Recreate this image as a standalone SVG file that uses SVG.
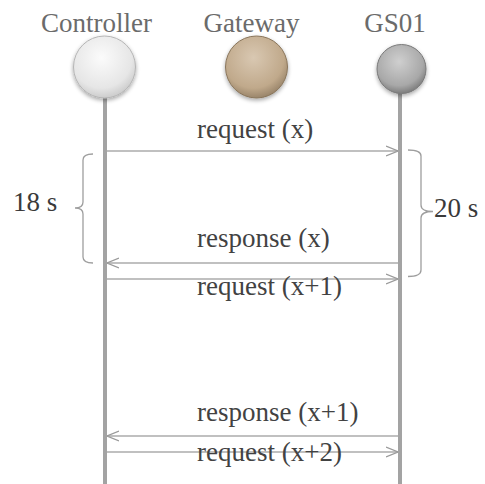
<svg xmlns="http://www.w3.org/2000/svg" width="485" height="484" viewBox="0 0 485 484">
  <style>
    text { font-family: 'Liberation Serif', 'Times New Roman', 'DejaVu Serif', serif; font-size: 27px; }
    .head { fill: #6b6b6b; text-anchor: middle; }
    .msg { fill: #424242; }
    .dur { fill: #3a3a3a; }
    .life { stroke: #a3a3a3; stroke-width: 4; fill: none; }
    .arrow { stroke: #ababab; stroke-width: 1.3; fill: none; }
    .brace { stroke: #9e9e9e; stroke-width: 1.3; fill: none; }
  </style>
  <defs>
    <marker id="head" viewBox="0 0 12 12" refX="12" refY="6" markerWidth="12" markerHeight="12" markerUnits="userSpaceOnUse" orient="auto">
      <path d="M0,1 L12,6 L0,11" fill="none" stroke="#9a9a9a" stroke-width="1.3"/>
    </marker>
    <radialGradient id="gWhite" cx="0.45" cy="0.35" r="0.7">
      <stop offset="0" stop-color="#fbfbfb"/>
      <stop offset="0.7" stop-color="#e6e6e6"/>
      <stop offset="1" stop-color="#c4c4c4"/>
    </radialGradient>
    <radialGradient id="gTan" cx="0.45" cy="0.35" r="0.7">
      <stop offset="0" stop-color="#d9c8b2"/>
      <stop offset="0.7" stop-color="#c0a98b"/>
      <stop offset="1" stop-color="#8e7a60"/>
    </radialGradient>
    <radialGradient id="gGrey" cx="0.45" cy="0.35" r="0.7">
      <stop offset="0" stop-color="#cfcfcf"/>
      <stop offset="0.7" stop-color="#a8a8a8"/>
      <stop offset="1" stop-color="#707070"/>
    </radialGradient>
    <filter id="shadow" x="-30%" y="-30%" width="160%" height="170%">
      <feGaussianBlur in="SourceAlpha" stdDeviation="2"/>
      <feOffset dy="2" result="b"/>
      <feComponentTransfer><feFuncA type="linear" slope="0.35"/></feComponentTransfer>
      <feMerge><feMergeNode/><feMergeNode in="SourceGraphic"/></feMerge>
    </filter>
  </defs>

  <g id="lifelines">
    <line class="life" x1="105" y1="96" x2="105" y2="484"/>
    <line class="life" x1="400" y1="92" x2="400" y2="484"/>
  </g>

  <g id="controller">
    <text class="head" x="96.5" y="32" font-family="Liberation Serif, serif">Controller</text>
    <circle cx="104.5" cy="67" r="31" fill="url(#gWhite)" stroke="#b5b5b5" stroke-width="1" filter="url(#shadow)"/>
  </g>
  <g id="gateway">
    <text class="head" x="251.5" y="32">Gateway</text>
    <circle cx="256.5" cy="67" r="31" fill="url(#gTan)" stroke="#8a765c" stroke-width="1" filter="url(#shadow)"/>
  </g>
  <g id="gs01">
    <text class="head" x="395" y="32">GS01</text>
    <circle cx="401.5" cy="69" r="24.5" fill="url(#gGrey)" stroke="#7a7a7a" stroke-width="1" filter="url(#shadow)"/>
  </g>

  <g id="connectors">
    <line class="arrow" x1="107" y1="151" x2="398" y2="151" marker-end="url(#head)"/>
    <line class="arrow" x1="398" y1="263" x2="107" y2="263" marker-end="url(#head)"/>
    <line class="arrow" x1="107" y1="279" x2="398" y2="279" marker-end="url(#head)"/>
    <line class="arrow" x1="398" y1="436" x2="107" y2="436" marker-end="url(#head)"/>
    <line class="arrow" x1="107" y1="452" x2="398" y2="452" marker-end="url(#head)"/>
  </g>

  <g id="labels">
    <text class="msg" x="197" y="138">request (x)</text>
    <text class="msg" x="197" y="247">response (x)</text>
    <text class="msg" x="197" y="295">request (x+1)</text>
    <text class="msg" x="197" y="421">response (x+1)</text>
    <text class="msg" x="197" y="461">request (x+2)</text>
  </g>

  <g id="duration-18s">
    <path class="brace" d="M93,154 Q83,154 83,160 L83,202 Q83,208 75,208 Q83,208 83,214 L83,257 Q83,263 93,263"/>
    <text class="dur" x="13" y="211">18 s</text>
  </g>
  <g id="duration-20s">
    <path class="brace" d="M408,150 Q421,150 421,156 L421,205 Q421,211.5 433,211.5 Q421,211.5 421,218 L421,270 Q421,276.5 408,276.5"/>
    <text class="dur" x="434" y="217">20 s</text>
  </g>
</svg>
